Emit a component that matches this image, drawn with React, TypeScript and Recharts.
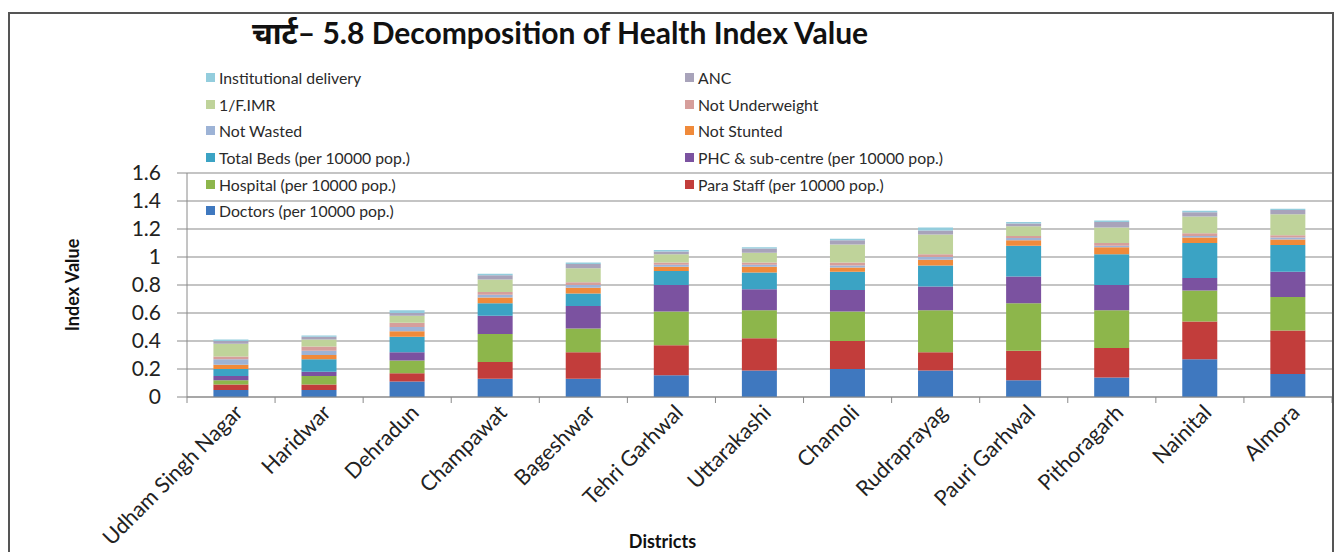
import React from 'react';
import { BarChart, Bar, XAxis, YAxis, CartesianGrid, Legend, Label } from 'recharts';

const districts = ['Udham Singh Nagar', 'Haridwar', 'Dehradun', 'Champawat', 'Bageshwar', 'Tehri Garhwal', 'Uttarakashi', 'Chamoli', 'Rudraprayag', 'Pauri Garhwal', 'Pithoragarh', 'Nainital', 'Almora'];

const doctors = [0.05, 0.05, 0.11, 0.13, 0.13, 0.155, 0.19, 0.2, 0.19, 0.12, 0.14, 0.27, 0.165];
const paraStaff = [0.04, 0.04, 0.06, 0.12, 0.19, 0.215, 0.23, 0.2, 0.13, 0.21, 0.21, 0.27, 0.31];
const hospital = [0.03, 0.06, 0.09, 0.2, 0.17, 0.24, 0.2, 0.21, 0.3, 0.34, 0.27, 0.22, 0.24];
const phc = [0.03, 0.03, 0.06, 0.13, 0.16, 0.19, 0.15, 0.155, 0.17, 0.19, 0.18, 0.09, 0.18];
const totalBeds = [0.05, 0.09, 0.11, 0.09, 0.09, 0.1, 0.12, 0.13, 0.15, 0.22, 0.22, 0.25, 0.19];
const notStunted = [0.03, 0.03, 0.04, 0.04, 0.04, 0.03, 0.04, 0.03, 0.04, 0.04, 0.05, 0.04, 0.04];
const notWasted = [0.04, 0.03, 0.03, 0.02, 0.02, 0.015, 0.015, 0.015, 0.02, 0.015, 0.01, 0.01, 0.015];
const notUnderweight = [0.02, 0.03, 0.03, 0.02, 0.02, 0.015, 0.015, 0.02, 0.02, 0.015, 0.02, 0.02, 0.015];
const fImr = [0.09, 0.05, 0.05, 0.09, 0.1, 0.06, 0.07, 0.13, 0.14, 0.07, 0.11, 0.12, 0.15];
const anc = [0.02, 0.02, 0.02, 0.03, 0.03, 0.02, 0.03, 0.03, 0.03, 0.02, 0.04, 0.03, 0.03];
const instDelivery = [0.01, 0.01, 0.02, 0.01, 0.01, 0.01, 0.01, 0.01, 0.02, 0.01, 0.01, 0.01, 0.01];

const seriesNames = [
  'Doctors (per 10000 pop.)',
  'Para Staff (per 10000 pop.)',
  'Hospital (per 10000 pop.)',
  'PHC & sub-centre (per 10000 pop.)',
  'Total Beds (per 10000 pop.)',
  'Not Stunted',
  'Not Wasted',
  'Not Underweight',
  '1/F.IMR',
  'ANC',
  'Institutional delivery',
];
const seriesValues = [doctors, paraStaff, hospital, phc, totalBeds, notStunted, notWasted, notUnderweight, fImr, anc, instDelivery];
const seriesColors = ['#3F78BF', '#C23D3B', '#8DB64B', '#7B52A0', '#3BA3C4', '#F08A3A', '#9DB3D6', '#D69E9B', '#BFD39A', '#A8A3BA', '#93CDDD'];

const yTicks = [0, 0.2, 0.4, 0.6, 0.8, 1, 1.2, 1.4, 1.6];

const data = districts.map((d, i) => {
  const row: Record<string, string | number> = { name: d };
  seriesNames.forEach((s, k) => {
    row['s' + k] = seriesValues[k][i];
  });
  return row;
});

const CHART_W = 1322;
const CHART_H = 538;
const MARGIN = { top: 159, right: 0, left: 0, bottom: 0 };
const Y_W = 177;
const STEP = (CHART_W - Y_W - MARGIN.right) / districts.length;
const FONT = "Lato, 'Open Sans', 'Noto Sans', sans-serif";

const XTick = (props: any) => {
  const { x, y, payload, index } = props;
  return (
    <g>
      <line x1={x + STEP / 2} y1={y} x2={x + STEP / 2} y2={y + 6} stroke="#8a8a8a" strokeWidth={1} />
      {index === 0 && <line x1={x - STEP / 2} y1={y} x2={x - STEP / 2} y2={y + 6} stroke="#8a8a8a" strokeWidth={1} />}
      <text
        x={x + 13}
        y={y + 17}
        transform={`rotate(-45, ${x + 13}, ${y + 17})`}
        textAnchor="end"
        fontSize={21.5}
        fontFamily={FONT}
        fill="#222"
      >
        {payload.value}
      </text>
    </g>
  );
};

const legendItems = seriesNames.map((n, k) => ({ name: n, color: seriesColors[k] })).reverse();

const renderLegend = () => (
  <div
    style={{
      display: 'grid',
      gridTemplateColumns: '479px 479px',
      gridAutoRows: '26.7px',
      fontFamily: FONT,
      fontSize: 15.8,
      color: '#2a2a2a',
    }}
  >
    {legendItems.map((it) => (
      <div key={it.name} style={{ display: 'flex', alignItems: 'center', whiteSpace: 'nowrap' }}>
        <span style={{ display: 'inline-block', width: 9, height: 9, background: it.color, marginRight: 4 }} />
        <span>{it.name}</span>
      </div>
    ))}
  </div>
);

export default function App() {
  return (
    <div
      style={{
        position: 'fixed',
        left: 8,
        top: 12,
        width: CHART_W,
        height: CHART_H + 10,
        borderTop: '2px solid #555',
        borderLeft: '2px solid #555',
        borderRight: '2px solid #555',
        background: '#fff',
        overflow: 'hidden',
      }}
    >
      <div
        style={{
          position: 'absolute',
          left: 242,
          top: 0,
          fontFamily: FONT,
          fontWeight: 700,
          fontSize: 30,
          lineHeight: '36px',
          color: '#111',
          whiteSpace: 'nowrap',
        }}
      >
        चार्ट– 5.8 Decomposition of Health Index Value
      </div>
      <BarChart width={CHART_W} height={CHART_H} data={data} margin={MARGIN} barCategoryGap="30%">
        <CartesianGrid horizontal vertical={false} stroke="#8a8a8a" strokeWidth={1.2} />
        <XAxis
          dataKey="name"
          interval={0}
          tickSize={0}
          tickMargin={0}
          tickLine={false}
          axisLine={{ stroke: '#8a8a8a' }}
          height={CHART_H - 383}
          tick={<XTick />}
        >
          <Label value="Districts" position="insideBottom" offset={4} dx={-97} fontFamily={FONT} fontWeight={700} fontSize={18} fill="#111" />
        </XAxis>
        <YAxis
          width={Y_W}
          domain={[0, 1.6]}
          ticks={yTicks}
          interval={0}
          tickSize={10}
          tickMargin={16}
          tick={{ fontFamily: FONT, fontSize: 21, fill: '#222' }}
          tickLine={{ stroke: '#8a8a8a' }}
          axisLine={{ stroke: '#8a8a8a' }}
        >
          <Label value="Index Value" angle={-90} position="center" dx={-26} fontFamily={FONT} fontWeight={700} fontSize={18} fill="#111" />
        </YAxis>
        <Legend
          layout="horizontal"
          verticalAlign="middle"
          align="center"
          content={renderLegend}
          wrapperStyle={{ left: 196, top: 50, width: 1000, height: 170 }}
        />
        {seriesNames.map((s, k) => (
          <Bar key={s} dataKey={'s' + k} name={s} stackId="a" fill={seriesColors[k]} isAnimationActive={false} />
        ))}
      </BarChart>
    </div>
  );
}
